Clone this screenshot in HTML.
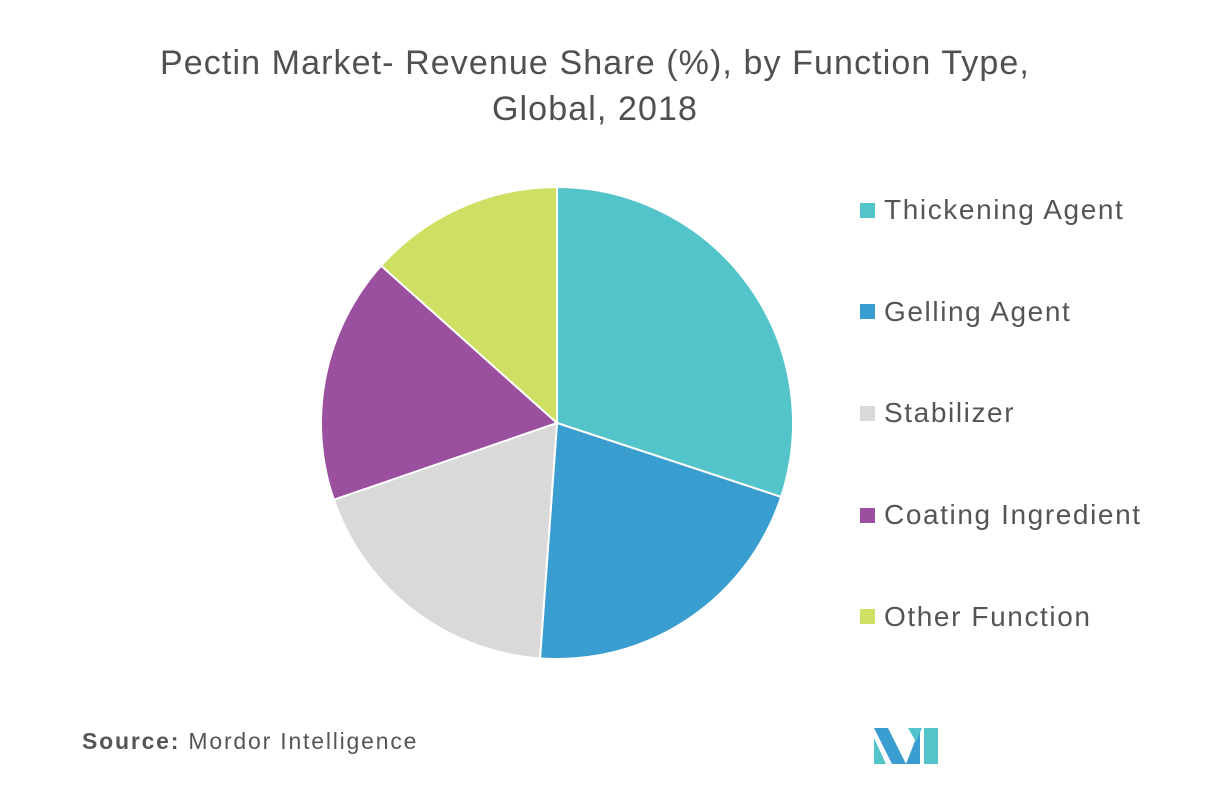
<!DOCTYPE html>
<html><head><meta charset="utf-8"><style>
body{margin:0;background:#fff;font-family:"Liberation Sans",sans-serif}
#wrap{position:relative;width:1217px;height:786px;overflow:hidden}
.title{position:absolute;left:0;width:1190px;top:40px;text-align:center;font-size:34px;color:#505050;line-height:46px;letter-spacing:1.1px}
.leg{position:absolute;left:860px;font-size:28px;color:#555;display:flex;align-items:center;letter-spacing:1.6px}
.sw{width:15px;height:15px;margin-right:9px}
.src{position:absolute;left:82px;top:728px;font-size:23px;color:#555;letter-spacing:1.8px}
</style></head><body>
<div id="wrap">
<div class="title">Pectin Market- Revenue Share (%), by Function Type,<br>Global, 2018</div>
<svg id="pie" width="1217" height="786" style="position:absolute;left:0;top:0"></svg>
<div id="legend"></div>
<div class="src"><b>Source:</b> Mordor Intelligence</div>
<svg width="80" height="45" style="position:absolute;left:872px;top:724px">
<polygon points="2,4 16,4 34,40 20,40" fill="#3a9dd0"/><polygon points="2,14 2,40 14,40" fill="#53c4c9"/>
<polygon points="34,40 48,4 48,40" fill="#3a9dd0"/><polygon points="52,4 66,4 66,40 52,40" fill="#53c4c9"/>
<polygon points="36,4 50,4 44,18" fill="#53c4c9"/>
</svg>
</div>
<script>
const categories=["Thickening Agent","Gelling Agent","Stabilizer","Coating Ingredient","Other Function"];
const values=[30.1,21.1,18.6,16.9,13.4];
const colors=["#53c4c9","#3a9dd0","#d9d9d9","#9b4f9f","#cfdf63"];
const cx=557,cy=423,r=236;
const svg=document.getElementById('pie');
const total=values.reduce((a,b)=>a+b,0);
let a0=0;
function pt(a){return [cx+r*Math.sin(a),cy-r*Math.cos(a)];}
values.forEach((v,i)=>{
 const a1=a0+v/total*2*Math.PI;
 const p0=pt(a0),p1=pt(a1);
 const large=(a1-a0)>Math.PI?1:0;
 const p=document.createElementNS('http://www.w3.org/2000/svg','path');
 p.setAttribute('d',`M${cx},${cy}L${p0[0]},${p0[1]}A${r},${r} 0 ${large} 1 ${p1[0]},${p1[1]}Z`);
 p.setAttribute('fill',colors[i]);p.setAttribute('stroke','#fff');p.setAttribute('stroke-width','2');
 
 
 svg.appendChild(p);a0=a1;
});
const lg=document.getElementById('legend');
categories.forEach((c,i)=>{
 const d=document.createElement('div');d.className='leg';d.style.top=(194+i*101.7)+'px';
 
 
 d.innerHTML=`<span class="sw" style="background:${colors[i]}"></span><span>${c}</span>`;
 lg.appendChild(d);
});
</script>
</body></html>
